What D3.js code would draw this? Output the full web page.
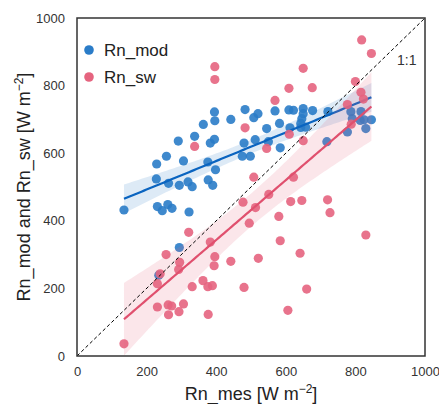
<!DOCTYPE html>
<html><head><meta charset="utf-8">
<script src="https://cdn.jsdelivr.net/npm/d3@7"></script>
<style>body{margin:0;background:#fff;font-family:"Liberation Sans",Arial,sans-serif}</style>
</head><body><svg id="c" width="439" height="404"></svg>
<script>
const modX = [135,231,245,261,273,322,228,263,294,319,331,377,390,229,257,306,376,398,291,338,383,395,363,396,395,442,483,508,520,569,609,622,650,650,646,643,677,545,582,612,643,657,512,480,550,584,475,498,721,787,816,791,814,825,846,830,777,718,294,235];
const modY = [432,442,430,448,437,426,524,511,505,515,501,521,505,568,591,577,574,551,636,650,630,641,685,696,722,700,729,705,717,725,728,727,732,717,702,688,726,673,688,675,676,677,640,630,634,616,591,591,723,723,723,702,697,699,699,673,663,634,321,239];
const swX = [135,231,262,272,306,263,293,377,331,362,376,389,239,231,256,295,292,321,383,396,394,442,477,495,508,513,551,521,480,580,584,614,646,622,641,660,606,720,727,830,483,545,610,650,569,609,676,650,396,396,338,818,846,800,816,823,777,788];
const swY = [36,145,151,148,154,122,131,123,205,223,205,208,243,214,300,277,256,366,337,294,267,280,455,393,529,439,478,289,203,413,341,457,460,529,304,198,135,462,424,358,675,614,656,637,756,792,794,851,856,818,620,935,895,812,780,760,744,686];
const ticks = [0,200,400,600,800,1000];
const seriesNames = ["Rn_mod","Rn_sw"];

const svg = d3.select("#c");
const L=77,R=425,T=18,B=356;
const x = d3.scaleLinear().domain([0,1000]).range([L,R]);
const y = d3.scaleLinear().domain([0,1000]).range([B,T]);
const g = svg.append("g");
svg.append("defs").append("clipPath").attr("id","clip").append("rect").attr("x",L).attr("y",T).attr("width",R-L).attr("height",B-T);

function fit(xs, ys){
  const n=xs.length, mx=d3.mean(xs), my=d3.mean(ys);
  let sxx=0,sxy=0; for(let i=0;i<n;i++){sxx+=(xs[i]-mx)**2;sxy+=(xs[i]-mx)*(ys[i]-my);}
  const b=sxy/sxx, a=my-b*mx;
  let sse=0; for(let i=0;i<n;i++){sse+=(ys[i]-a-b*xs[i])**2;}
  const s=Math.sqrt(sse/(n-2)), t=2.0;
  const xs0=d3.range(100).map(i=>d3.min(xs)+(d3.max(xs)-d3.min(xs))*i/99);
  return xs0.map(v=>{const yh=a+b*v, se=s*Math.sqrt(1/n+(v-mx)**2/sxx); return {x:v,y:yh,lo:yh-t*se,hi:yh+t*se};});
}

const series = [
  {name:seriesNames[0], xs:modX, ys:modY, pt:"#2a7cc8", ln:"#0a64c0", band:"#2a7cc8"},
  {name:seriesNames[1], xs:swX, ys:swY, pt:"#e5647f", ln:"#e0506e", band:"#e5647f"}
];
const plot = g.append("g").attr("clip-path","url(#clip)");
series.forEach(s=>{
  plot.append("g").selectAll("circle").data(s.xs.map((v,i)=>[v,s.ys[i]])).join("circle")
    .attr("cx",d=>x(d[0])).attr("cy",d=>y(d[1])).attr("r",4.6)
    .attr("fill",s.pt).attr("fill-opacity",0.9);
  const f = fit(s.xs,s.ys);
  plot.append("path").datum(f).attr("fill",s.band).attr("fill-opacity",0.16)
    .attr("d",d3.area().x(d=>x(d.x)).y0(d=>y(d.lo)).y1(d=>y(d.hi)));
  plot.append("path").datum(f).attr("fill","none").attr("stroke",s.ln).attr("stroke-width",2.2)
    .attr("d",d3.line().x(d=>x(d.x)).y(d=>y(d.y)));
});
plot.append("line").attr("x1",x(0)).attr("y1",y(0)).attr("x2",x(1000)).attr("y2",y(1000))
  .attr("stroke","#000").attr("stroke-width",1).attr("stroke-dasharray","3.5,2.5");

g.append("rect").attr("x",L).attr("y",T).attr("width",R-L).attr("height",B-T)
  .attr("fill","none").attr("stroke","#333").attr("stroke-width",1.5);

const xa = g.append("g").attr("transform",`translate(0,${B})`)
  .call(d3.axisBottom(x).tickValues(ticks).tickSize(0).tickPadding(11).tickFormat(d3.format("d")));
const ya = g.append("g").attr("transform",`translate(${L},0)`)
  .call(d3.axisLeft(y).tickValues(ticks).tickSize(0).tickPadding(12).tickFormat(d3.format("d")));
[xa,ya].forEach(a=>{a.select(".domain").remove();a.selectAll("text").attr("font-size",13).attr("fill","#333").attr("font-family","'Liberation Sans',Arial,sans-serif");});

const lab = (t)=>{ t.append("tspan").text(t.datum()[0]); t.append("tspan").attr("font-size",12).attr("dy",-7).text("−2"); t.append("tspan").attr("dy",7).text("]"); };
svg.append("text").datum(["Rn_mes [W m"]).attr("x",(L+R)/2).attr("y",400).attr("text-anchor","middle")
  .attr("font-size",18).attr("fill","#222").call(lab);
svg.append("text").datum(["Rn_mod and Rn_sw [W m"]).attr("transform",`translate(30,${(T+B)/2}) rotate(-90)`).attr("text-anchor","middle")
  .attr("font-size",18).attr("fill","#222").call(lab);

svg.append("text").attr("x",397).attr("y",65).attr("font-size",14).attr("fill","#333").text("1:1");

series.forEach((s,i)=>{
  const yy = 50 + i*27;
  svg.append("circle").attr("cx",89).attr("cy",yy).attr("r",4.8).attr("fill",s.pt);
  svg.append("text").attr("x",104).attr("y",yy+6).attr("font-size",17).attr("fill","#222").text(s.name);
});
</script></body></html>
